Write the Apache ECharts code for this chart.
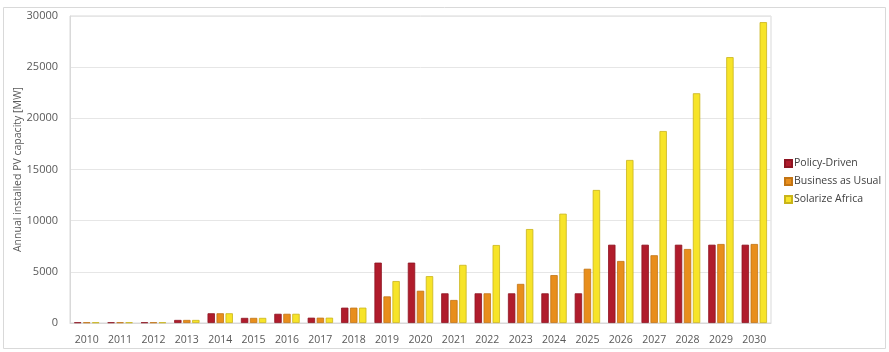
<!DOCTYPE html>
<html>
<head>
<meta charset="utf-8">
<script src="https://cdn.jsdelivr.net/npm/echarts@6/dist/echarts.min.js"></script>
<style>
  html, body { margin: 0; padding: 0; background: #fff; }
  #chart { width: 889px; height: 352px; }
</style>
</head>
<body>
<div id="chart"></div>
<script>
// years on the x axis
const years = ['2010', '2011', '2012', '2013', '2014', '2015', '2016', '2017', '2018', '2019', '2020',
  '2021', '2022', '2023', '2024', '2025', '2026', '2027', '2028', '2029', '2030']

// annual installed PV capacity, MW
const policyDriven = [60, 60, 60, 300, 950, 500, 900, 520, 1500, 5900, 5900,
  2900, 2900, 2900, 2900, 2900, 7650, 7650, 7650, 7650, 7650]
const businessAsUsual = [60, 60, 60, 300, 950, 500, 900, 520, 1500, 2600, 3150,
  2250, 2900, 3820, 4680, 5300, 6060, 6620, 7230, 7720, 7720]
const solarizeAfrica = [60, 60, 60, 300, 950, 500, 900, 520, 1500, 4100, 4580,
  5680, 7620, 9180, 10680, 13000, 15930, 18760, 22450, 25980, 29400]

const yTicks = [0, 5000, 10000, 15000, 20000, 25000, 30000]

const chart = echarts.init(document.getElementById('chart'))
const font = '"Open Sans", sans-serif'

function bar(name, data, color, border) {
  return {
    name,
    type: 'bar',
    data,
    barGap: '22%',
    barCategoryGap: '24%',
    itemStyle: { color, borderColor: border, borderWidth: 0.8 },
    animation: false
  }
}

chart.setOption({
  graphic: [{
    type: 'rect',
    shape: { x: 3.5, y: 7.5, width: 882, height: 341 },
    style: { fill: 'none', stroke: '#d9d9d9', lineWidth: 1 },
    silent: true
  }],
  grid: {
    left: 70,
    right: 118,
    top: 16,
    bottom: 29,
    show: true,
    borderColor: '#d9d9d9',
    borderWidth: 1
  },
  legend: {
    orient: 'vertical',
    left: 779,
    top: 153,
    icon: 'rect',
    itemWidth: 7,
    itemHeight: 7,
    itemGap: 7,
    textStyle: { fontFamily: font, fontSize: 10.5, color: '#404040', padding: [0, 0, 0, -3] },
    data: ['Policy-Driven', 'Business as Usual', 'Solarize Africa']
  },
  xAxis: {
    type: 'category',
    data: years,
    axisLine: { lineStyle: { color: '#d9d9d9' } },
    axisTick: { show: false },
    axisLabel: { interval: 0, fontFamily: font, fontSize: 10.5, color: '#595959', margin: 12 }
  },
  yAxis: {
    type: 'value',
    min: yTicks[0],
    max: yTicks[yTicks.length - 1],
    interval: 5000,
    name: 'Annual installed PV capacity [MW]',
    nameLocation: 'middle',
    nameGap: 46,
    nameMoveOverlap: false,
    nameTextStyle: { fontFamily: font, fontSize: 10.5, color: '#595959' },
    axisLine: { show: true, lineStyle: { color: '#d9d9d9' } },
    splitLine: { lineStyle: { color: '#e6e6e6' } },
    axisLabel: { fontFamily: font, fontSize: 11, color: '#595959', margin: 12, formatter: v => String(v) }
  },
  series: [
    bar('Policy-Driven', policyDriven, '#b01c2c', '#8e1522'),
    bar('Business as Usual', businessAsUsual, '#e88e1c', '#c27414'),
    bar('Solarize Africa', solarizeAfrica, '#f7e428', '#c9b41a')
  ]
})
</script>
</body>
</html>
